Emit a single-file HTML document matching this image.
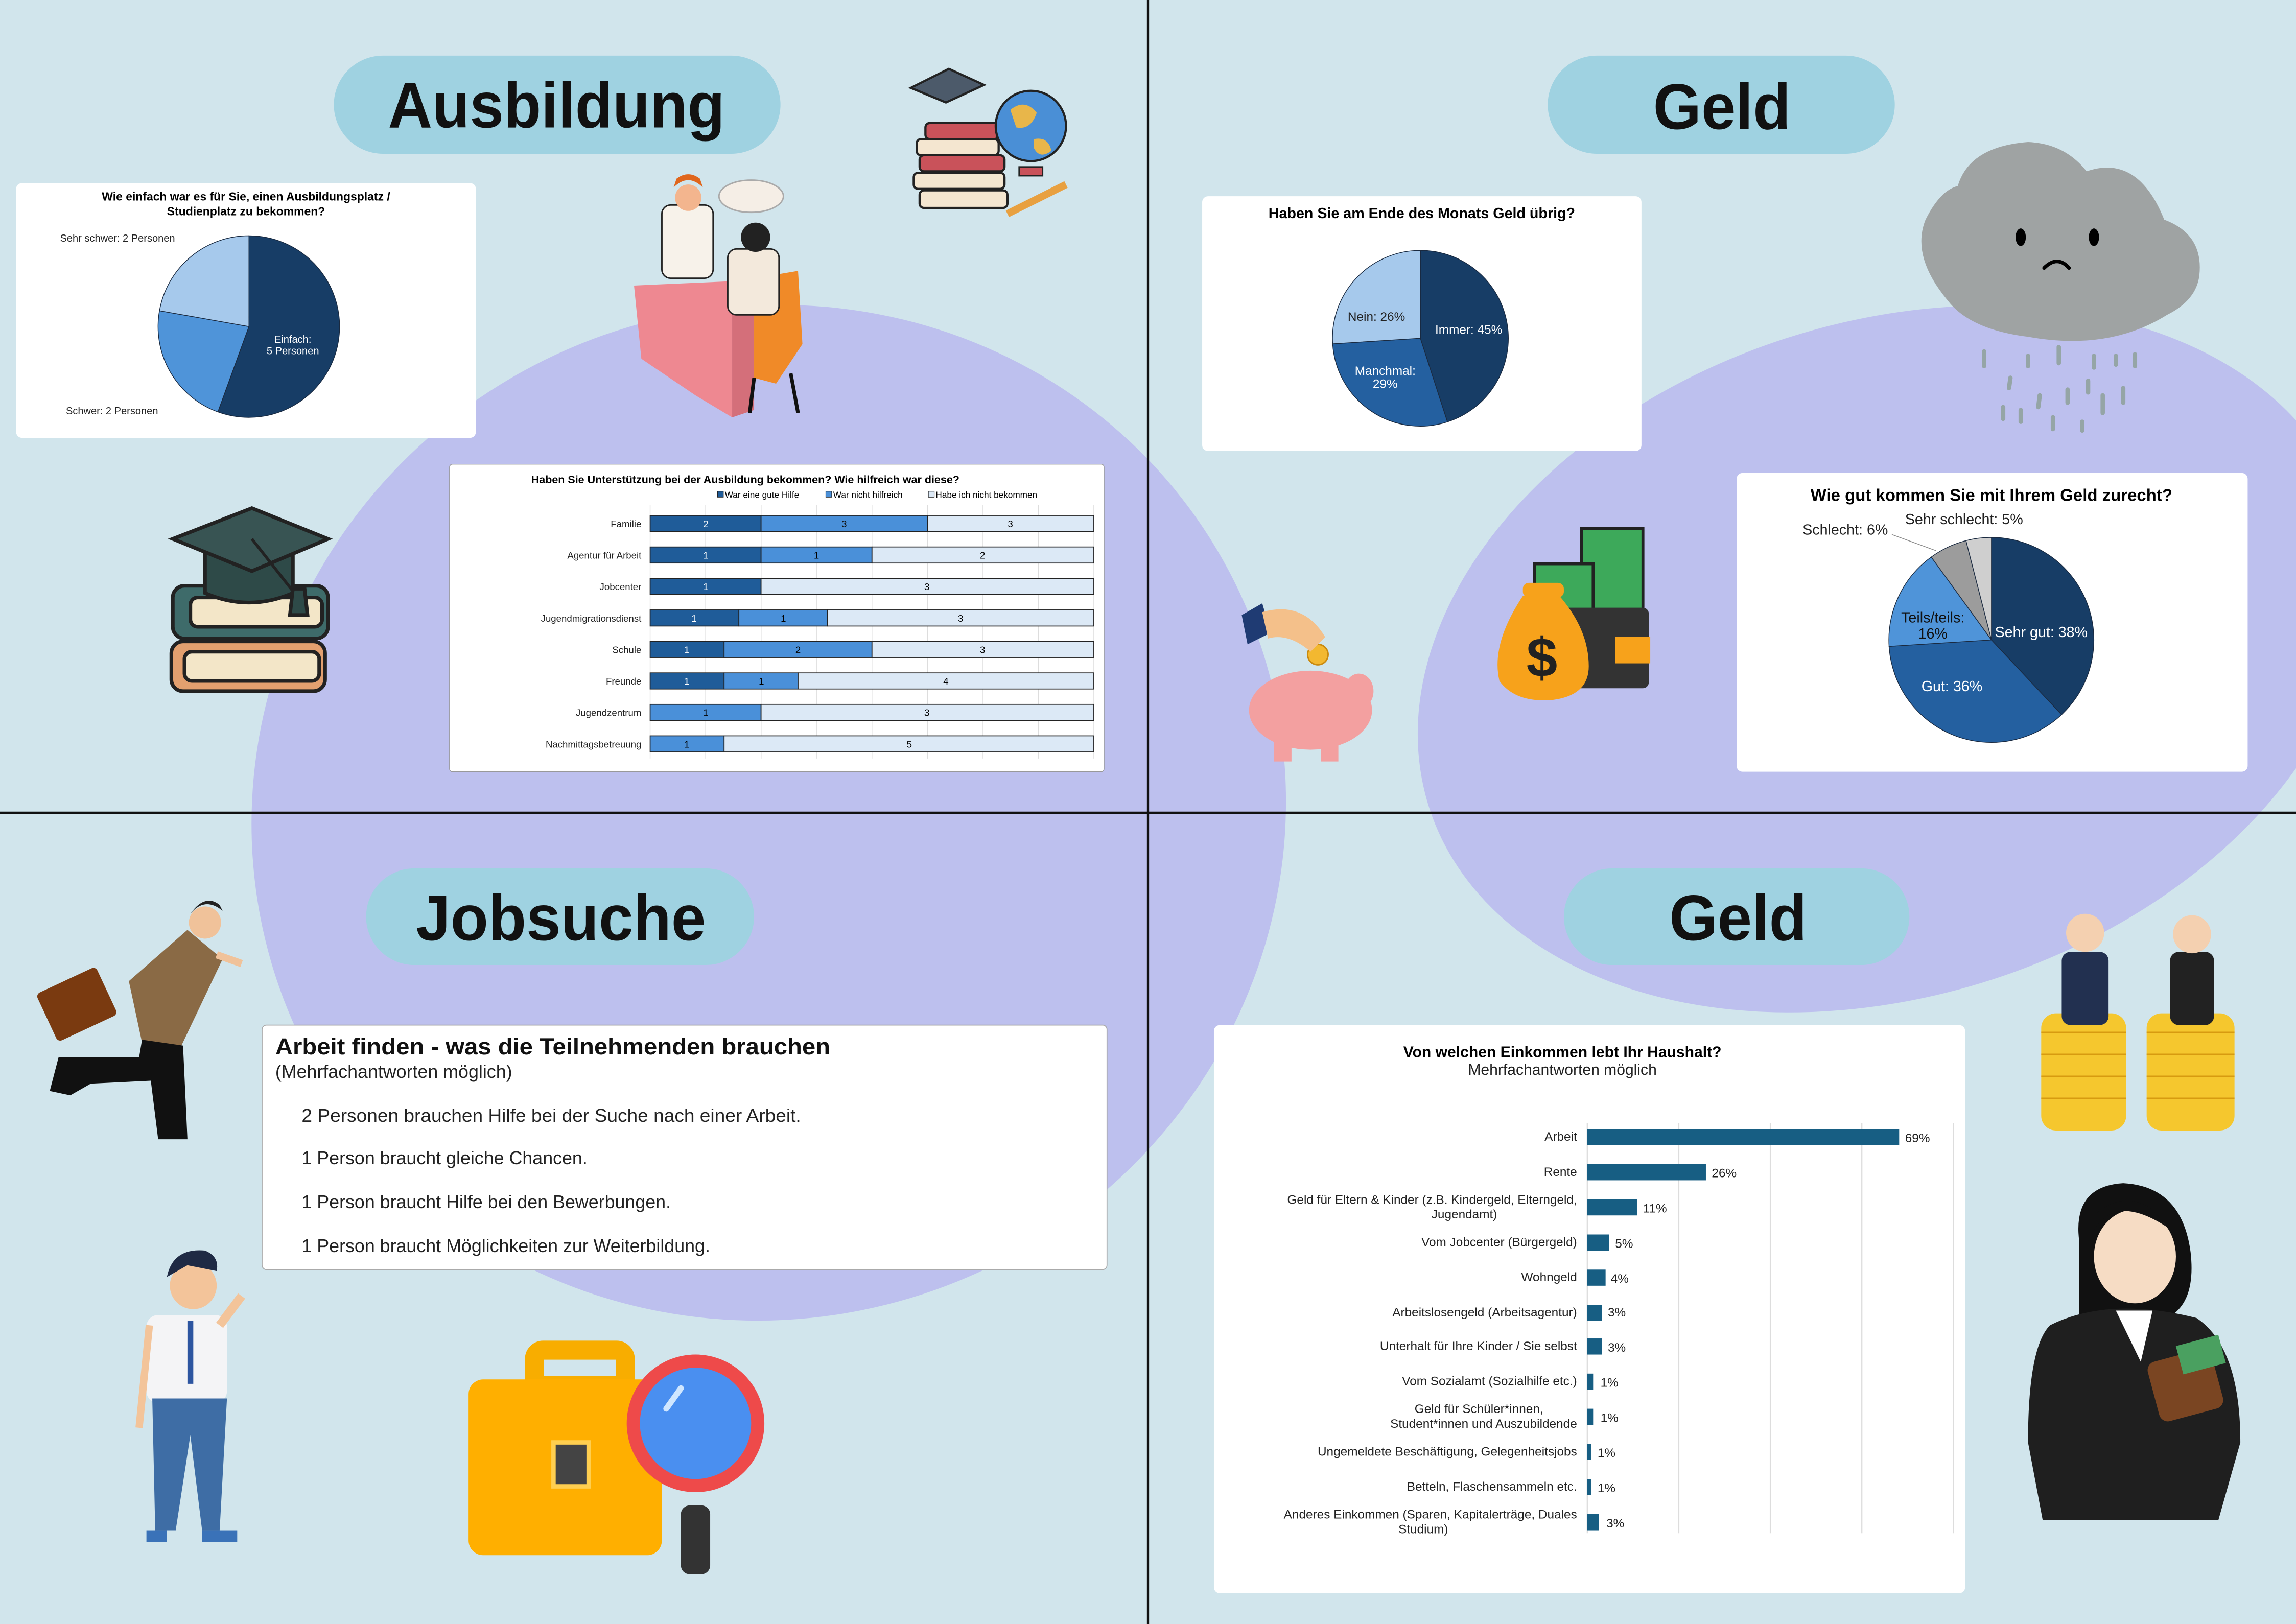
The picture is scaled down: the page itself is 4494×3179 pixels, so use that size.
<!DOCTYPE html>
<html><head><meta charset="utf-8"><style>
html,body{margin:0;padding:0;background:#d1e5ec;}
svg{display:block}
text{font-family:"Liberation Sans",Arial,sans-serif;}
</style></head><body>
<svg width="4494" height="3179" viewBox="0 0 1568 1109" preserveAspectRatio="none" xmlns="http://www.w3.org/2000/svg">
<rect width="1568" height="1109" fill="#d1e5ec"/>
<ellipse cx="525" cy="555" rx="355" ry="345" transform="rotate(-25 525 555)" fill="#bdc0ee"/>
<ellipse cx="1290" cy="450" rx="330" ry="230" transform="rotate(-18 1290 450)" fill="#bdc0ee"/>
<line x1="784" y1="0" x2="784" y2="1109" stroke="#111" stroke-width="1.5"/>
<line x1="0" y1="555" x2="1568" y2="555" stroke="#111" stroke-width="1.5"/>

<rect x="228" y="38" width="305" height="67" rx="33.5" fill="#9fd2e1"/>
<text x="380" y="87" text-anchor="middle" font-size="44" font-weight="bold" fill="#111" textLength="230" lengthAdjust="spacingAndGlyphs">Ausbildung</text>
<rect x="1057" y="38" width="237" height="67" rx="33.5" fill="#9fd2e1"/>
<text x="1176" y="88" text-anchor="middle" font-size="44" font-weight="bold" fill="#111" textLength="94" lengthAdjust="spacingAndGlyphs">Geld</text>
<rect x="250" y="593" width="265" height="66" rx="33" fill="#9fd2e1"/>
<text x="383" y="642" text-anchor="middle" font-size="44" font-weight="bold" fill="#111" textLength="198" lengthAdjust="spacingAndGlyphs">Jobsuche</text>
<rect x="1068" y="593" width="236" height="66" rx="33" fill="#9fd2e1"/>
<text x="1187" y="642" text-anchor="middle" font-size="44" font-weight="bold" fill="#111" textLength="94" lengthAdjust="spacingAndGlyphs">Geld</text>

<rect x="11" y="125" width="314" height="174" rx="4" fill="#fff"/>
<text x="168" y="137" text-anchor="middle" font-size="8" font-weight="bold">Wie einfach war es für Sie, einen Ausbildungsplatz /</text>
<text x="168" y="147" text-anchor="middle" font-size="8" font-weight="bold">Studienplatz zu bekommen?</text>
<g stroke="#1a2a40" stroke-width="0.5">
<path d="M170 223 L170 161 A62 62 0 1 1 148.8 281.3 Z" fill="#173d66"/>
<path d="M170 223 L148.8 281.3 A62 62 0 0 1 108.9 212.2 Z" fill="#4f94d9"/>
<path d="M170 223 L108.9 212.2 A62 62 0 0 1 170 161 Z" fill="#a6c9ec"/>
</g>
<text x="200" y="234" text-anchor="middle" font-size="7" fill="#fff">Einfach:</text>
<text x="200" y="242" text-anchor="middle" font-size="7" fill="#fff">5 Personen</text>
<text x="41" y="165" font-size="7" fill="#222">Sehr schwer: 2 Personen</text>
<text x="45" y="283" font-size="7" fill="#222">Schwer: 2 Personen</text>

<rect x="307" y="317" width="447" height="210" rx="2" fill="#fff" stroke="#999" stroke-width="0.5"/>
<text x="509" y="330" text-anchor="middle" font-size="7.5" font-weight="bold">Haben Sie Unterstützung bei der Ausbildung bekommen? Wie hilfreich war diese?</text>
<g font-size="6">
<rect x="490" y="335.5" width="4" height="4" fill="#1f5c99" stroke="#222" stroke-width="0.4"/><text x="495" y="340">War eine gute Hilfe</text>
<rect x="564" y="335.5" width="4" height="4" fill="#4a90d9" stroke="#222" stroke-width="0.4"/><text x="569" y="340">War nicht hilfreich</text>
<rect x="634" y="335.5" width="4" height="4" fill="#dce9f6" stroke="#222" stroke-width="0.4"/><text x="639" y="340">Habe ich nicht bekommen</text>
</g>
<g stroke="#ddd" stroke-width="0.5">
<line x1="444" y1="345" x2="444" y2="518"/><line x1="481.9" y1="345" x2="481.9" y2="518"/><line x1="519.8" y1="345" x2="519.8" y2="518"/><line x1="557.6" y1="345" x2="557.6" y2="518"/><line x1="595.5" y1="345" x2="595.5" y2="518"/><line x1="633.4" y1="345" x2="633.4" y2="518"/><line x1="671.3" y1="345" x2="671.3" y2="518"/><line x1="709.1" y1="345" x2="709.1" y2="518"/><line x1="747" y1="345" x2="747" y2="518"/>
</g>
<g stroke="#222" stroke-width="0.6">
<rect x="444" y="352" width="75.75" height="11" fill="#1f5c99"/><rect x="519.75" y="352" width="113.65" height="11" fill="#4a90d9"/><rect x="633.4" y="352" width="113.6" height="11" fill="#dce9f6"/>
<rect x="444" y="373.5" width="75.75" height="11" fill="#1f5c99"/><rect x="519.75" y="373.5" width="75.75" height="11" fill="#4a90d9"/><rect x="595.5" y="373.5" width="151.5" height="11" fill="#dce9f6"/>
<rect x="444" y="395" width="75.75" height="11" fill="#1f5c99"/><rect x="519.75" y="395" width="227.25" height="11" fill="#dce9f6"/>
<rect x="444" y="416.5" width="60.6" height="11" fill="#1f5c99"/><rect x="504.6" y="416.5" width="60.6" height="11" fill="#4a90d9"/><rect x="565.2" y="416.5" width="181.8" height="11" fill="#dce9f6"/>
<rect x="444" y="438" width="50.5" height="11" fill="#1f5c99"/><rect x="494.5" y="438" width="101" height="11" fill="#4a90d9"/><rect x="595.5" y="438" width="151.5" height="11" fill="#dce9f6"/>
<rect x="444" y="459.5" width="50.5" height="11" fill="#1f5c99"/><rect x="494.5" y="459.5" width="50.5" height="11" fill="#4a90d9"/><rect x="545" y="459.5" width="202" height="11" fill="#dce9f6"/>
<rect x="444" y="481" width="75.75" height="11" fill="#4a90d9"/><rect x="519.75" y="481" width="227.25" height="11" fill="#dce9f6"/>
<rect x="444" y="502.5" width="50.5" height="11" fill="#4a90d9"/><rect x="494.5" y="502.5" width="252.5" height="11" fill="#dce9f6"/>
</g>
<g font-size="6.5" text-anchor="end" fill="#222">
<text x="438" y="360">Familie</text><text x="438" y="381.5">Agentur für Arbeit</text><text x="438" y="403">Jobcenter</text><text x="438" y="424.5">Jugendmigrationsdienst</text><text x="438" y="446">Schule</text><text x="438" y="467.5">Freunde</text><text x="438" y="489">Jugendzentrum</text><text x="438" y="510.5">Nachmittagsbetreuung</text>
</g>
<g font-size="6.5" text-anchor="middle">
<text x="482" y="360" fill="#fff">2</text><text x="576.5" y="360" fill="#111">3</text><text x="690" y="360">3</text>
<text x="482" y="381.5" fill="#fff">1</text><text x="557.6" y="381.5">1</text><text x="671" y="381.5">2</text>
<text x="482" y="403" fill="#fff">1</text><text x="633" y="403">3</text>
<text x="474" y="424.5" fill="#fff">1</text><text x="535" y="424.5">1</text><text x="656" y="424.5">3</text>
<text x="469" y="446" fill="#fff">1</text><text x="545" y="446">2</text><text x="671" y="446">3</text>
<text x="469" y="467.5" fill="#fff">1</text><text x="520" y="467.5">1</text><text x="646" y="467.5">4</text>
<text x="482" y="489">1</text><text x="633" y="489">3</text>
<text x="469" y="510.5">1</text><text x="621" y="510.5">5</text>
</g>

<rect x="821" y="134" width="300" height="174" rx="4" fill="#fff"/>
<text x="971" y="149" text-anchor="middle" font-size="10" font-weight="bold">Haben Sie am Ende des Monats Geld übrig?</text>
<g stroke="#1a2a40" stroke-width="0.5">
<path d="M970 231 L970 171 A60 60 0 0 1 988.5 288.1 Z" fill="#173d66"/>
<path d="M970 231 L988.5 288.1 A60 60 0 0 1 910.1 234.8 Z" fill="#2460a0"/>
<path d="M970 231 L910.1 234.8 A60 60 0 0 1 970 171 Z" fill="#a6c9ec"/>
</g>
<text x="1003" y="228" text-anchor="middle" font-size="8.5" fill="#fff">Immer: 45%</text>
<text x="940" y="219" text-anchor="middle" font-size="8.5" fill="#222">Nein: 26%</text>
<text x="946" y="256" text-anchor="middle" font-size="8.5" fill="#fff">Manchmal:</text>
<text x="946" y="265" text-anchor="middle" font-size="8.5" fill="#fff">29%</text>

<rect x="1186" y="323" width="349" height="204" rx="4" fill="#fff"/>
<text x="1360" y="342" text-anchor="middle" font-size="11.5" font-weight="bold">Wie gut kommen Sie mit Ihrem Geld zurecht?</text>
<g stroke="#1a2a40" stroke-width="0.5">
<path d="M1360 437 L1360 367 A70 70 0 0 1 1407.9 488 Z" fill="#173d66"/>
<path d="M1360 437 L1407.9 488 A70 70 0 0 1 1290.1 441.4 Z" fill="#2460a0"/>
<path d="M1360 437 L1290.1 441.4 A70 70 0 0 1 1318.9 380.4 Z" fill="#4f94d9"/>
<path d="M1360 437 L1318.9 380.4 A70 70 0 0 1 1342.6 369.2 Z" fill="#9c9c9c"/>
<path d="M1360 437 L1342.6 369.2 A70 70 0 0 1 1360 367 Z" fill="#cfcfcf"/>
</g>
<text x="1394" y="435" text-anchor="middle" font-size="10" fill="#fff">Sehr gut: 38%</text>
<text x="1333" y="472" text-anchor="middle" font-size="10" fill="#fff">Gut: 36%</text>
<text x="1320" y="425" text-anchor="middle" font-size="10" fill="#111">Teils/teils:</text>
<text x="1320" y="436" text-anchor="middle" font-size="10" fill="#111">16%</text>
<text x="1231" y="365" font-size="10" fill="#222">Schlecht: 6%</text>
<line x1="1292" y1="365" x2="1322" y2="376" stroke="#888" stroke-width="0.5"/>
<text x="1301" y="358" font-size="10" fill="#222">Sehr schlecht: 5%</text>

<rect x="179" y="700" width="577" height="167" rx="3" fill="#fff" stroke="#aaa" stroke-width="0.6"/>
<text x="188" y="720" font-size="16" font-weight="bold" fill="#111" textLength="379" lengthAdjust="spacingAndGlyphs">Arbeit finden - was die Teilnehmenden brauchen</text>
<text x="188" y="736" font-size="12.5" fill="#222">(Mehrfachantworten möglich)</text>
<g font-size="12.5" fill="#222">
<text x="206" y="766" textLength="341" lengthAdjust="spacingAndGlyphs">2 Personen brauchen Hilfe bei der Suche nach einer Arbeit.</text>
<text x="206" y="795">1 Person braucht gleiche Chancen.</text>
<text x="206" y="825">1 Person braucht Hilfe bei den Bewerbungen.</text>
<text x="206" y="855">1 Person braucht Möglichkeiten zur Weiterbildung.</text>
</g>

<rect x="829" y="700" width="513" height="388" rx="4" fill="#fff"/>
<text x="1067" y="722" text-anchor="middle" font-size="10.5" font-weight="bold">Von welchen Einkommen lebt Ihr Haushalt?</text>
<text x="1067" y="734" text-anchor="middle" font-size="10.5" fill="#222">Mehrfachantworten möglich</text>
<g stroke="#ddd" stroke-width="0.8">
<line x1="1084" y1="767" x2="1084" y2="1047"/><line x1="1146.5" y1="767" x2="1146.5" y2="1047"/><line x1="1209" y1="767" x2="1209" y2="1047"/><line x1="1271.5" y1="767" x2="1271.5" y2="1047"/><line x1="1334" y1="767" x2="1334" y2="1047"/>
</g>
<g fill="#175e83">
<rect x="1084" y="771" width="213" height="11"/>
<rect x="1084" y="795" width="81" height="11"/>
<rect x="1084" y="819" width="34" height="11"/>
<rect x="1084" y="843" width="15" height="11"/>
<rect x="1084" y="867" width="12.5" height="11"/>
<rect x="1084" y="891" width="10" height="11"/>
<rect x="1084" y="914" width="10" height="11"/>
<rect x="1084" y="938" width="4" height="11"/>
<rect x="1084" y="962" width="4" height="11"/>
<rect x="1084" y="986" width="2.5" height="11"/>
<rect x="1084" y="1010" width="2.5" height="11"/>
<rect x="1084" y="1034" width="8" height="11"/>
</g>
<g font-size="8.5" fill="#222">
<text x="1301" y="780">69%</text><text x="1169" y="804">26%</text><text x="1122" y="828">11%</text><text x="1103" y="852">5%</text><text x="1100" y="876">4%</text><text x="1098" y="899">3%</text><text x="1098" y="923">3%</text><text x="1093" y="947">1%</text><text x="1093" y="971">1%</text><text x="1091" y="995">1%</text><text x="1091" y="1019">1%</text><text x="1097" y="1043">3%</text>
</g>
<g font-size="8.5" fill="#222" text-anchor="end">
<text x="1077" y="779">Arbeit</text>
<text x="1077" y="803">Rente</text>
<text x="1077" y="822">Geld für Eltern &amp; Kinder (z.B. Kindergeld, Elterngeld,</text>
<text x="1000" y="832" text-anchor="middle">Jugendamt)</text>
<text x="1077" y="851">Vom Jobcenter (Bürgergeld)</text>
<text x="1077" y="875">Wohngeld</text>
<text x="1077" y="899">Arbeitslosengeld (Arbeitsagentur)</text>
<text x="1077" y="922">Unterhalt für Ihre Kinder / Sie selbst</text>
<text x="1077" y="946">Vom Sozialamt (Sozialhilfe etc.)</text>
<text x="1010" y="965" text-anchor="middle">Geld für Schüler*innen,</text>
<text x="1077" y="975">Student*innen und Auszubildende</text>
<text x="1077" y="994">Ungemeldete Beschäftigung, Gelegenheitsjobs</text>
<text x="1077" y="1018">Betteln, Flaschensammeln etc.</text>
<text x="1077" y="1037">Anderes Einkommen (Sparen, Kapitalerträge, Duales</text>
<text x="972" y="1047" text-anchor="middle">Studium)</text>
</g>

<!-- books+globe top -->
<g>
<rect x="624" y="118" width="62" height="11" rx="3" fill="#f4e6d0" stroke="#222" stroke-width="1.5"/>
<rect x="628" y="106" width="58" height="11" rx="3" fill="#c9525a" stroke="#222" stroke-width="1.5"/>
<rect x="626" y="95" width="56" height="11" rx="3" fill="#f4e6d0" stroke="#222" stroke-width="1.5"/>
<rect x="632" y="84" width="50" height="11" rx="3" fill="#c9525a" stroke="#222" stroke-width="1.5"/>
<rect x="628" y="130" width="60" height="12" rx="3" fill="#f4e6d0" stroke="#222" stroke-width="1.5"/>
<path d="M622 60 L648 47 L672 58 L646 70 Z" fill="#4c5a6a" stroke="#222" stroke-width="1.5"/>
<circle cx="704" cy="86" r="24" fill="#4a8fd6" stroke="#222" stroke-width="1.5"/>
<path d="M690 75 q10 -8 18 2 q-4 12 -14 10 z M706 95 q10 -2 12 8 q-8 6 -12 -2z" fill="#e8b64a"/>
<rect x="696" y="114" width="16" height="6" fill="#c9525a" stroke="#222"/>
<line x1="688" y1="146" x2="728" y2="126" stroke="#e8a040" stroke-width="5"/>
</g>
<!-- desk scene -->
<g>
<path d="M433 195 L500 192 L500 285 L475 270 L438 245 Z" fill="#ee8891"/>
<path d="M500 192 L515 205 L515 280 L500 285 Z" fill="#d46f7a"/>
<path d="M515 190 L545 185 L548 235 L530 262 L515 258 Z" fill="#f08a28"/>
<line x1="515" y1="258" x2="512" y2="282" stroke="#111" stroke-width="2.5"/><line x1="540" y1="255" x2="545" y2="282" stroke="#111" stroke-width="2.5"/>
<rect x="452" y="140" width="35" height="50" rx="6" fill="#f7f2ea" stroke="#222"/>
<circle cx="470" cy="135" r="9" fill="#f3b58e"/>
<path d="M460 128 q10 -10 20 0 l-2 -6 q-8 -6 -16 0z" fill="#e0661c"/>
<rect x="497" y="170" width="35" height="45" rx="6" fill="#f3e9dc" stroke="#222"/>
<circle cx="516" cy="162" r="10" fill="#222"/>
<ellipse cx="513" cy="134" rx="22" ry="11" fill="#f5eee6" stroke="#aaa"/>
</g>
<!-- books with cap -->
<g stroke="#222" stroke-width="2.5">
<rect x="117" y="438" width="105" height="34" rx="8" fill="#e3a06f"/>
<rect x="126" y="445" width="92" height="20" rx="5" fill="#f3e6c8"/>
<rect x="118" y="400" width="106" height="36" rx="8" fill="#3e6b6a"/>
<rect x="130" y="408" width="90" height="20" rx="5" fill="#f3e6c8"/>
<path d="M140 375 L200 375 L200 405 Q170 418 140 405 Z" fill="#2e4a48"/>
<path d="M118 368 L172 347 L224 368 L172 390 Z" fill="#385453"/>
<line x1="172" y1="368" x2="205" y2="410" stroke-width="2"/>
<path d="M200 402 l8 0 l2 18 l-12 0 z" fill="#2e4a48"/>
</g>
<!-- cloud -->
<g>
<path d="M1330 205 Q1305 175 1315 150 Q1325 130 1337 127 Q1345 100 1385 97 Q1410 98 1425 117 Q1460 105 1478 150 Q1505 160 1502 188 Q1500 205 1480 215 Q1440 240 1385 230 Q1345 225 1330 205 Z" fill="#9fa3a3"/>
<ellipse cx="1380" cy="162" rx="3.5" ry="6" fill="#000"/>
<ellipse cx="1430" cy="162" rx="3.5" ry="6" fill="#000"/>
<path d="M1396 183 q9 -9 17 0" stroke="#000" stroke-width="2.5" fill="none" stroke-linecap="round"/>
<g stroke="#95a5a6" stroke-width="3" stroke-linecap="round">
<line x1="1355" y1="240" x2="1355" y2="250"/><line x1="1385" y1="243" x2="1385" y2="250"/><line x1="1406" y1="237" x2="1406" y2="248"/><line x1="1430" y1="243" x2="1430" y2="251"/><line x1="1445" y1="243" x2="1445" y2="249"/><line x1="1458" y1="242" x2="1458" y2="250"/>
<line x1="1373" y1="258" x2="1372" y2="265"/><line x1="1426" y1="260" x2="1426" y2="268"/><line x1="1393" y1="270" x2="1392" y2="278"/><line x1="1412" y1="266" x2="1412" y2="275"/><line x1="1450" y1="265" x2="1450" y2="275"/>
<line x1="1368" y1="278" x2="1368" y2="286"/><line x1="1380" y1="280" x2="1380" y2="288"/><line x1="1402" y1="285" x2="1402" y2="293"/><line x1="1436" y1="270" x2="1436" y2="282"/><line x1="1422" y1="288" x2="1422" y2="294"/>
</g>
</g>
<!-- money -->
<g>
<rect x="1080" y="361" width="42" height="70" fill="#3da95a" stroke="#222" stroke-width="2"/>
<rect x="1048" y="385" width="40" height="50" fill="#3da95a" stroke="#222" stroke-width="2"/>
<rect x="1060" y="415" width="66" height="55" rx="4" fill="#333"/>
<rect x="1103" y="435" width="24" height="18" fill="#f7a21b"/>
<path d="M1040 407 Q1018 440 1024 465 Q1035 480 1060 478 Q1085 475 1085 455 Q1085 430 1065 407 Z" fill="#f7a21b"/>
<rect x="1040" y="398" width="28" height="10" rx="4" fill="#f7a21b"/>
<text x="1053" y="462" text-anchor="middle" font-size="38" font-weight="bold" fill="#222">$</text>
</g>
<!-- piggy -->
<g>
<ellipse cx="895" cy="485" rx="42" ry="27" fill="#f3a0a0"/>
<rect x="870" y="500" width="12" height="20" fill="#f3a0a0"/><rect x="902" y="500" width="12" height="20" fill="#f3a0a0"/>
<ellipse cx="928" cy="472" rx="10" ry="12" fill="#f3a0a0"/>
<circle cx="900" cy="447" r="7" fill="#f3b830" stroke="#c98a10"/>
<path d="M848 420 L862 412 L868 432 L852 440 Z" fill="#1f3b73"/>
<path d="M862 418 Q890 410 905 435 L895 445 Q880 432 866 436 Z" fill="#f4c08a"/>
</g>
<!-- running man -->
<g>
<path d="M88 670 L128 635 L152 655 L122 718 L97 712 Z" fill="#8a6a45"/>
<circle cx="140" cy="630" r="11" fill="#f0c29a"/>
<path d="M130 624 q10 -12 22 -2 l-2 -4 q-10 -8 -20 6z" fill="#222"/>
<path d="M97 710 L125 714 L128 778 L108 778 L103 738 L62 740 L48 748 L34 745 L40 722 L95 722 Z" fill="#111"/>
<rect x="30" y="668" width="45" height="36" rx="3" fill="#7a3a10" transform="rotate(-25 52 686)"/>
<line x1="148" y1="652" x2="165" y2="658" stroke="#f0c29a" stroke-width="5"/>
</g>
<!-- boy -->
<g>
<circle cx="132" cy="878" r="16" fill="#f3c49a"/>
<path d="M114 872 q4 -20 26 -18 q10 4 8 14 l-20 -4z" fill="#1f2a44"/>
<rect x="100" y="898" width="55" height="60" rx="8" fill="#f4f4f6"/>
<line x1="130" y1="902" x2="130" y2="945" stroke="#2d55a0" stroke-width="4"/>
<path d="M104 955 L155 955 L150 1045 L138 1045 L130 980 L120 1045 L106 1045 Z" fill="#3e6da5"/>
<rect x="100" y="1045" width="14" height="8" fill="#3a72b8"/><rect x="138" y="1045" width="24" height="8" fill="#3a72b8"/>
<line x1="150" y1="905" x2="165" y2="885" stroke="#f3c49a" stroke-width="6"/>
<line x1="102" y1="905" x2="95" y2="975" stroke="#f3c49a" stroke-width="5"/>
</g>
<!-- briefcase + magnifier -->
<g>
<rect x="365" y="922" width="62" height="24" rx="6" fill="none" stroke="#f8ad00" stroke-width="13"/>
<rect x="320" y="942" width="132" height="120" rx="10" fill="#ffaf00"/>
<rect x="378" y="985" width="24" height="30" fill="#444" stroke="#ffcf50" stroke-width="3"/>
<circle cx="475" cy="972" r="47" fill="#ee4a4a"/>
<circle cx="475" cy="972" r="38" fill="#4a8ff0"/>
<rect x="465" y="1028" width="20" height="47" rx="6" fill="#333"/>
<line x1="455" y1="962" x2="465" y2="948" stroke="#cfe6ff" stroke-width="4" stroke-linecap="round"/>
</g>
<!-- coins people -->
<g>
<rect x="1394" y="692" width="58" height="80" rx="10" fill="#f5c72e"/>
<rect x="1466" y="692" width="60" height="80" rx="10" fill="#f5c72e"/>
<g stroke="#d79b10" stroke-width="1"><line x1="1394" y1="705" x2="1452" y2="705"/><line x1="1394" y1="720" x2="1452" y2="720"/><line x1="1394" y1="735" x2="1452" y2="735"/><line x1="1394" y1="750" x2="1452" y2="750"/><line x1="1466" y1="705" x2="1526" y2="705"/><line x1="1466" y1="720" x2="1526" y2="720"/><line x1="1466" y1="735" x2="1526" y2="735"/><line x1="1466" y1="750" x2="1526" y2="750"/></g>
<rect x="1408" y="650" width="32" height="50" rx="6" fill="#223050"/>
<circle cx="1424" cy="637" r="13" fill="#f4d0b0"/>
<rect x="1482" y="650" width="30" height="50" rx="6" fill="#222"/>
<circle cx="1497" cy="638" r="13" fill="#f4d0b0"/>
</g>
<!-- woman with money -->
<g>
<path d="M1420 848 Q1415 810 1450 808 Q1490 810 1496 855 Q1500 890 1480 900 L1420 900 Z" fill="#111"/>
<ellipse cx="1458" cy="858" rx="28" ry="32" fill="#f6dcc4"/>
<path d="M1430 840 Q1445 815 1480 838 L1470 826 Q1450 812 1430 830 Z" fill="#111"/>
<path d="M1400 905 Q1440 885 1500 900 Q1530 920 1530 985 L1515 1038 L1395 1038 L1385 985 Q1385 920 1400 905 Z" fill="#1f1f1f"/>
<path d="M1445 895 L1470 895 L1462 930 Z" fill="#fff"/>
<rect x="1470" y="925" width="45" height="42" rx="6" fill="#7a4522" transform="rotate(-15 1492 946)"/>
<rect x="1488" y="915" width="30" height="20" fill="#4aa060" transform="rotate(-15 1503 925)"/>
</g>
</svg>
</body></html>
